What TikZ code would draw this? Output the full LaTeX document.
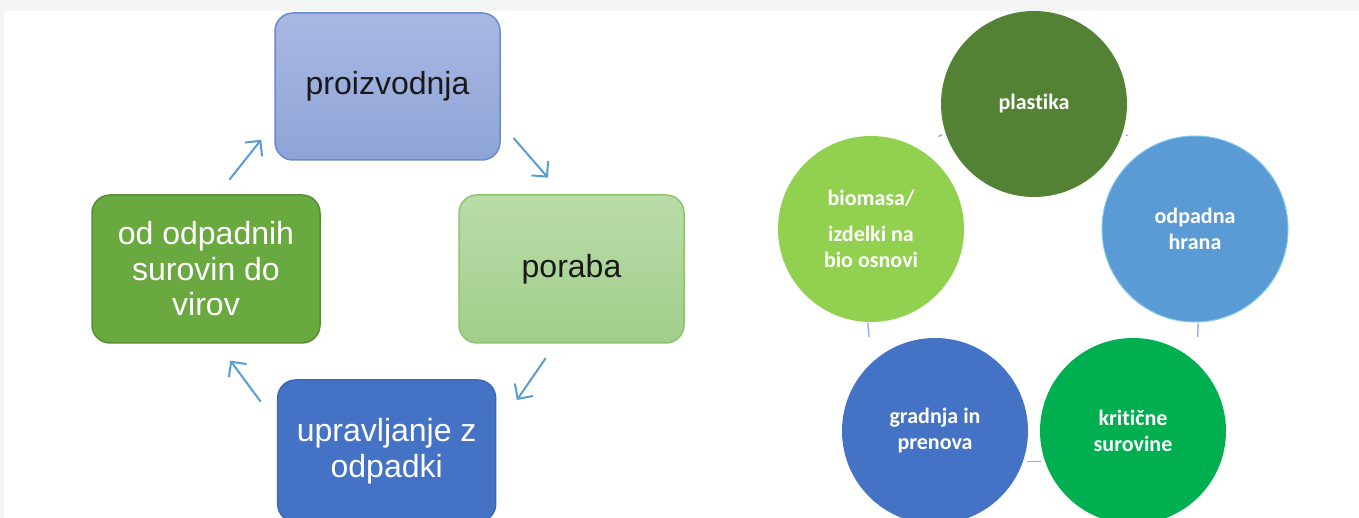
\documentclass[tikz,border=0pt]{standalone}
\usepackage{fontspec}
\setmainfont{Liberation Sans}
\newfontfamily\circfont[Ligatures=NoCommon]{Carlito}
\usepackage{tikz}
\usetikzlibrary{arrows.meta}
\definecolor{FrameGrey}{HTML}{F3F5F5}
\definecolor{ArrowBlue}{HTML}{5B9BD5}
\definecolor{LinkBlue}{HTML}{8EA9DB}
\definecolor{ProizTop}{HTML}{A9B8E2}
\definecolor{ProizBot}{HTML}{8EA4D8}
\definecolor{ProizLine}{HTML}{6A8AD0}
\definecolor{PorabaTop}{HTML}{BADCA9}
\definecolor{PorabaBot}{HTML}{A1CE8A}
\definecolor{PorabaLine}{HTML}{8CC56C}
\definecolor{OdpadFill}{HTML}{6AA93F}
\definecolor{OdpadLine}{HTML}{578E34}
\definecolor{UpravFill}{HTML}{4472C4}
\definecolor{UpravLine}{HTML}{3E68B5}
\definecolor{PlastGreen}{HTML}{548235}
\definecolor{HranaBlue}{HTML}{5B9BD5}
\definecolor{HranaRim}{HTML}{7EC6EC}
\definecolor{KritGreen}{HTML}{00B050}
\definecolor{GradBlue}{HTML}{4472C4}
\definecolor{BioGreen}{HTML}{92D050}
\tikzset{
	stage/.style={rectangle, rounded corners=18pt, line width=1.5pt, inner sep=0pt,
		align=center, font=\fontsize{32}{35.5}\selectfont},
	stage size/.style 2 args={minimum width=#1, minimum height=#2},
	topic/.style={circle, fill=#1, minimum size=186pt, inner sep=0pt, text=white,
		align=center, font=\circfont\bfseries\fontsize{22}{26}\selectfont},
	cycarrow/.style={draw=ArrowBlue, line width=2pt, line cap=round,
		-{Straight Barb[length=11pt, width=22pt, line width=2pt]}},
	link/.style={draw=LinkBlue, line width=1.3pt}
}

\begin{document}
\begin{tikzpicture}[x=1pt, y=1pt]
	\useasboundingbox (0,0) rectangle (1359,518);
	\clip (0,0) rectangle (1359,518);
	\fill[white] (0,0) rectangle (1359,518);
	\fill[FrameGrey] (0,507) rectangle (1359,518);
	\fill[FrameGrey] (0,0) rectangle (4,518);

	% cycle of stages
	\node[stage, stage size={225pt}{147pt}, top color=ProizTop, bottom color=ProizBot, draw=ProizLine, text=black!90]
		(proiz) at (387.5,431.5) {proizvodnja};
	\node[stage, stage size={225pt}{148pt}, top color=PorabaTop, bottom color=PorabaBot, draw=PorabaLine, text=black!90]
		(poraba) at (571.5,249) {poraba};
	\node[stage, stage size={228pt}{148pt}, fill=OdpadFill, draw=OdpadLine, text=white]
		(odpad) at (206,249) {od odpadnih\\surovin do\\virov};
	\node[stage, stage size={218pt}{142pt}, fill=UpravFill, draw=UpravLine, text=white]
		(uprav) at (386.7,67) {upravljanje z\\odpadki};

	\draw[cycarrow, shorten <=19pt, shorten >=21pt] (odpad.81) -- (proiz.198);
	\draw[cycarrow, shorten <=20pt, shorten >=22pt] (proiz.-18) -- (poraba.97);
	\draw[cycarrow, shorten <=18pt, shorten >=36pt] (poraba.258) -- (uprav.11);
	\draw[cycarrow, shorten <=28pt, shorten >=21pt] (uprav.166) -- (odpad.-81);

	% priority areas
	\node[topic=PlastGreen] (plastika) at (1034,414) {plastika};
	\node[topic=HranaBlue, draw=HranaRim, line width=1pt] (hrana) at (1195,289) {odpadna\\hrana};
	\node[topic=KritGreen] (kritic) at (1133,87) {kritične\\surovine};
	\node[topic=GradBlue] (gradnja) at (935,87) {gradnja in\\prenova};
	\node[topic=BioGreen] (bio) at (871,289) {biomasa/\\[10pt]izdelki na\\bio osnovi};

	\draw[link, shorten <=4pt, shorten >=24pt] (plastika.-18) -- (hrana.120);
	\draw[link, shorten <=26pt, shorten >=1pt] (kritic.47) -- (hrana.-88);
	\draw[link, shorten <=4pt, shorten >=4pt] (gradnja.-19) -- (kritic.199);
	\draw[link, shorten <=1pt, shorten >=26pt] (bio.-92) -- (gradnja.133);
	\draw[link, shorten <=24pt, shorten >=4pt] (bio.60) -- (plastika.198);
\end{tikzpicture}
\end{document}
